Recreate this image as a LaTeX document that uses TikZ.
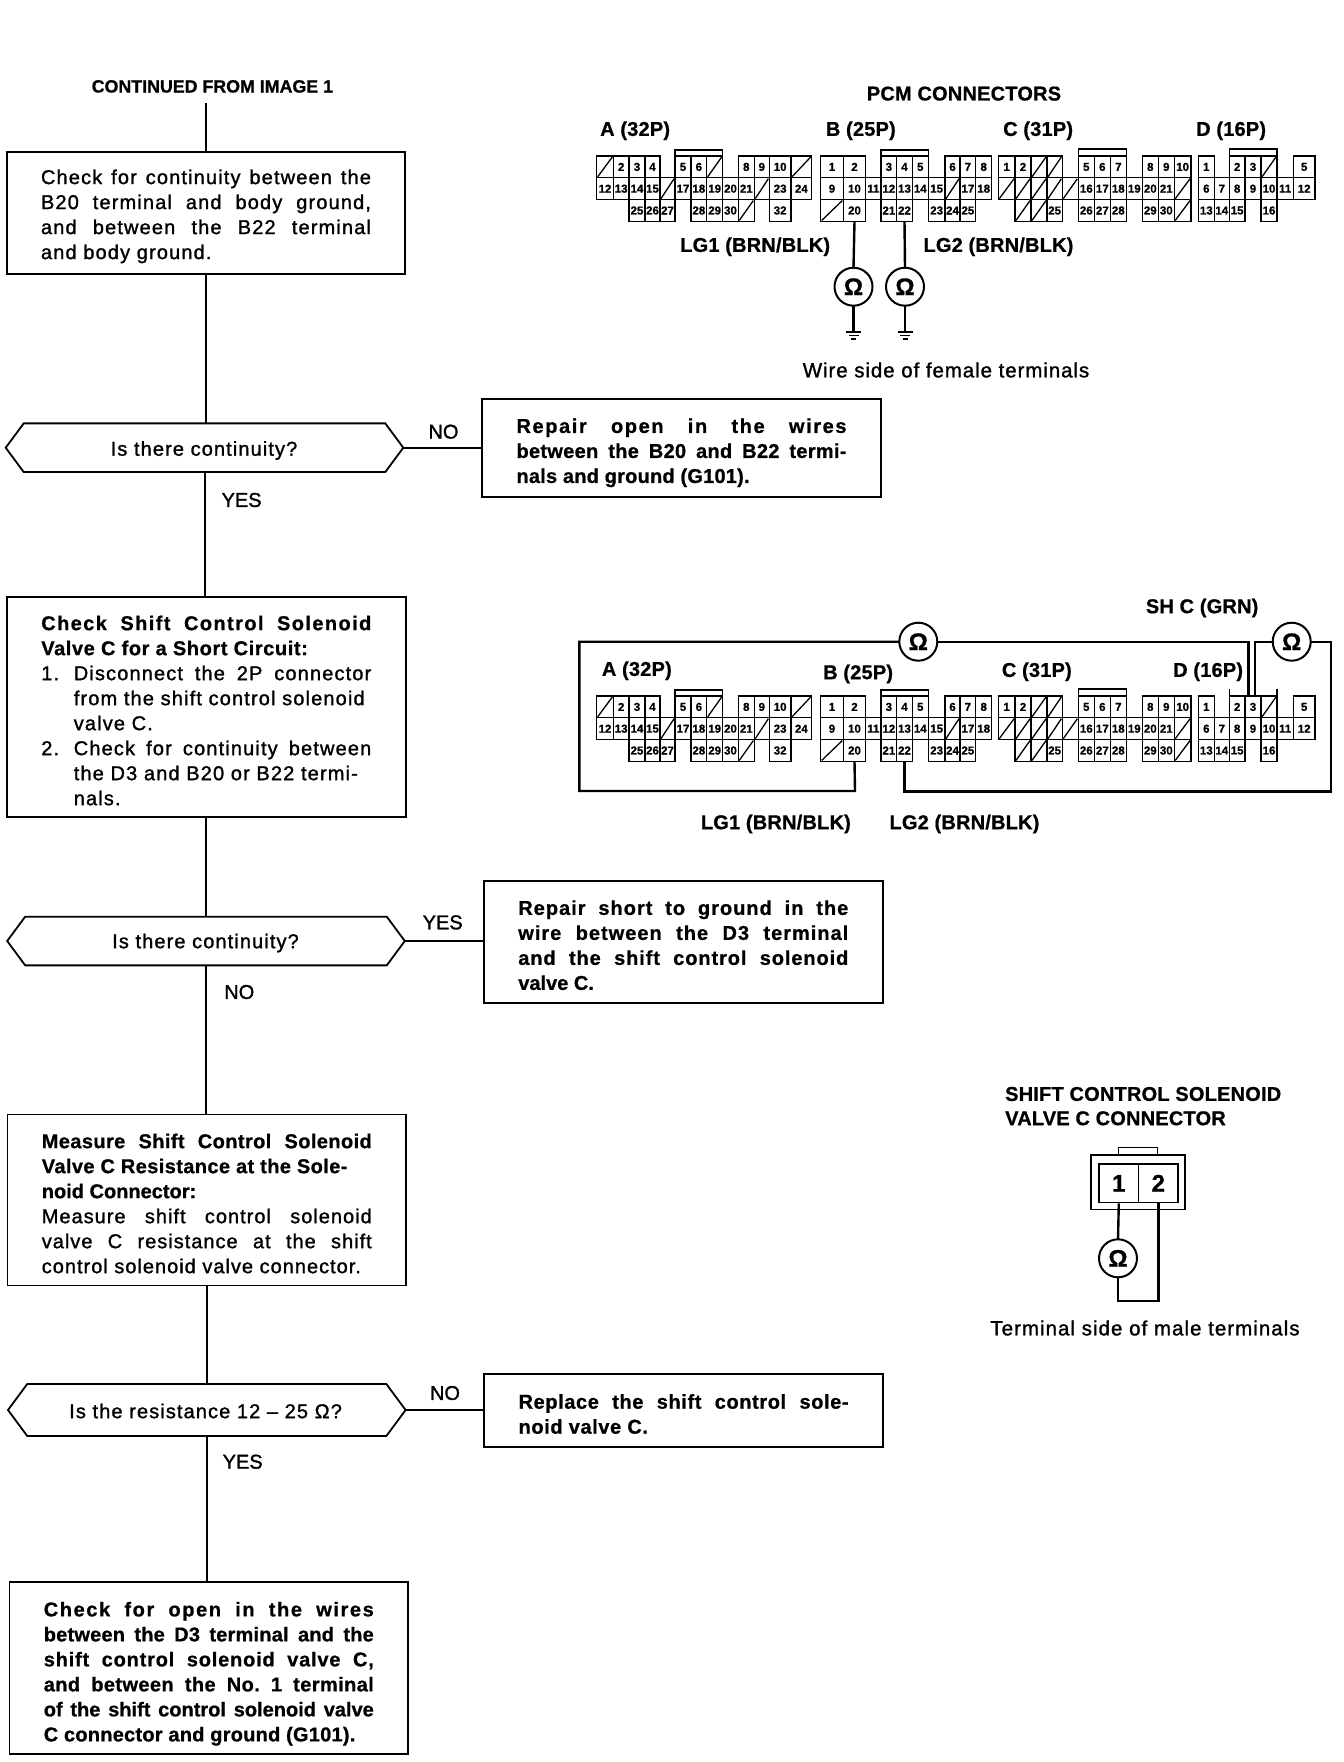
\documentclass[tikz,border=0pt]{standalone}
\usepackage{fontspec}
\setmainfont[BoldFeatures={FakeBold=0.8}]{Liberation Sans}
\newfontfamily\medfont[FakeBold=1.3]{Liberation Sans}
\usetikzlibrary{shapes.symbols}

\newcommand{\ls}[2]{{\addfontfeature{LetterSpace=#1}#2}}

\tikzset{
	stepbox/.style={draw, line width=1.8pt, align=justify, inner xsep=34.3pt, inner ysep=0pt, outer sep=0pt, text width=330pt, font=\fontsize{20}{25}\selectfont, execute at begin node={\rule{0pt}{21.5pt}}},
	boldbox/.style={stepbox, font=\fontsize{20}{25}\selectfont\bfseries},
	decision/.style={draw, line width=1.8pt, signal, signal to=west and east, signal pointer angle=107, minimum width=397.6pt, minimum height=48.7pt, inner sep=0pt, outer sep=0pt},
	hextext/.style={inner sep=0pt, font=\fontsize{20}{24}\medfont\addfontfeature{LetterSpace=5.5}},
	tag/.style={inner sep=0pt, font=\fontsize{20}{24}\medfont},
	head/.style={inner sep=0pt, anchor=west, font=\fontsize{20}{24}\selectfont\bfseries\addfontfeature{LetterSpace=1}},
	pin/.style={draw, line width=1.3pt, inner sep=0pt, outer sep=0pt, minimum height=21.8pt, anchor=north west, font=\fontsize{11.5}{12}\selectfont\bfseries},
	ohm/.style={draw, circle, line width=2pt, minimum size=38pt, inner sep=0pt, outer sep=0pt, font=\fontsize{24}{24}\selectfont\bfseries},
	wire/.style={line width=2.4pt},
	flow/.style={line width=2pt},
}

\newcommand{\pinrow}[3]{
	\foreach \x/\w/\lab in {#3}{
		\node[pin, minimum width=\w pt] (#1\lab) at (\x,#2) {\lab};
	}
}
\newcommand{\slashrow}[2]{
	\foreach \x/\w in {#2}{
		\draw[line width=1.3pt] (\x,#1) rectangle (\x+\w,#1+21.8);
		\draw[line width=1.3pt] (\x+1,#1+20.8) -- (\x+\w-1,#1+1);
	}
}
\newcommand{\pcmgrid}[2]{
	% A (32P)
	\slashrow{#2+156}{596.7/16.6, 706.7/16, 791/20.7}
	\pinrow{#1A}{#2+156}{613.3/15.7/2, 629/16/3, 645/15/4, 675/16/5, 691/15.7/6, 738.3/16/8, 754.3/15/9, 769.3/21.7/10}
	\slashrow{#2+177.8}{660/15, 754.3/15}
	\pinrow{#1A}{#2+177.8}{596.7/16.6/12, 613.3/15.7/13, 629/16/14, 645/15/15, 675/16/17, 691/15.7/18, 706.7/16/19, 722.7/15.6/20, 738.3/16/21, 769.3/21.7/23, 791/20.7/24}
	\slashrow{#2+199.6}{738.3/16}
	\pinrow{#1A}{#2+199.6}{629/16/25, 645/15/26, 660/15/27, 691/15.7/28, 706.7/16/29, 722.7/15.6/30, 769.3/21.7/32}
	\draw[line width=1.3pt] (675,#2+156) -- (675,#2+150) -- (722.7,#2+150) -- (722.7,#2+156);
	% B (25P)
	\pinrow{#1B}{#2+156}{820.7/22.6/1, 843.3/22.4/2, 881/15.7/3, 896.7/15.6/4, 912.3/16/5, 945/15/6, 960/15.7/7, 975.7/16/8}
	\slashrow{#2+177.8}{945/15}
	\pinrow{#1B}{#2+177.8}{820.7/22.6/9, 843.3/22.4/10, 865.7/15.3/11, 881/15.7/12, 896.7/15.6/13, 912.3/16/14, 928.3/16.7/15, 960/15.7/17, 975.7/16/18}
	\slashrow{#2+199.6}{820.7/22.6}
	\pinrow{#1B}{#2+199.6}{843.3/22.4/20, 881/15.7/21, 896.7/15.6/22, 928.3/16.7/23, 945/15/24, 960/15.7/25}
	\draw[line width=1.3pt] (881,#2+156) -- (881,#2+150) -- (928.3,#2+150) -- (928.3,#2+156);
	% C (31P)
	\pinrow{#1C}{#2+156}{998.3/16.7/1, 1015/16/2, 1078.3/16/5, 1094.3/16/6, 1110.3/16/7, 1142.3/16/8, 1158.3/16/9, 1174.3/16.7/10}
	\slashrow{#2+156}{1031/16, 1047/15.3}
	\slashrow{#2+177.8}{998.3/16.7, 1015/16, 1031/16, 1047/15.3, 1062.3/16, 1174.3/16.7}
	\pinrow{#1C}{#2+177.8}{1078.3/16/16, 1094.3/16/17, 1110.3/16/18, 1126.3/16/19, 1142.3/16/20, 1158.3/16/21}
	\slashrow{#2+199.6}{1015/16, 1031/16, 1174.3/16.7}
	\pinrow{#1C}{#2+199.6}{1047/15.3/25, 1078.3/16/26, 1094.3/16/27, 1110.3/16/28, 1142.3/16/29, 1158.3/16/30}
	\draw[line width=1.3pt] (1078.3,#2+156) -- (1078.3,#2+149) -- (1126.3,#2+149) -- (1126.3,#2+156);
	% D (16P)
	\pinrow{#1D}{#2+156}{1198.3/16/1, 1229.3/15.7/2, 1245/16/3, 1293.3/21.7/5}
	\slashrow{#2+156}{1261/16}
	\pinrow{#1D}{#2+177.8}{1198.3/16/6, 1214.3/15/7, 1229.3/15.7/8, 1245/16/9, 1261/16/10, 1277/16.3/11, 1293.3/21.7/12}
	\pinrow{#1D}{#2+199.6}{1198.3/16/13, 1214.3/15/14, 1229.3/15.7/15, 1261/16/16}
}
\newcommand{\gnd}[1]{
	\draw[line width=2pt] (#1) ++(-7.5,0) -- ++(15,0);
	\draw[line width=1.5pt] (#1) ++(-5,3.5) -- ++(10,0);
	\draw[line width=1.5pt] (#1) ++(-2.5,7) -- ++(5,0);
}

\begin{document}
\begin{tikzpicture}[x=1pt, y=-1pt]
	\useasboundingbox (0,0) rectangle (1344,1762);

	% flow chart, left column
	\node[inner sep=0pt, font=\fontsize{17.8}{20}\selectfont\bfseries] (cont) at (212.4,86.4) {CONTINUED FROM IMAGE 1};
	\coordinate (conttop) at (205.8,103);

	\node[stepbox, minimum height=122.3pt] (boxa) at (206,212.9) {\medfont\addfontfeature{LetterSpace=5.7}Check for continuity between the\linebreak B20 terminal and body ground,\linebreak and between the B22 terminal\linebreak and body ground.};
	\node[decision] (hexa) at (204.5,447.7) {};
	\node[hextext] (hexatext) at (204,450.5) {Is there continuity?};
	\node[boldbox, minimum height=98pt] (boxb) at (681.5,448.3) {\rule{0pt}{23.5pt}\ls{8}{Repair open in the wires}\linebreak \ls{1.5}{between the B20 and B22 termi-}\linebreak \ls{1.1}{nals and ground (G101).}};
	\node[tag] (noa) at (443.5,431.7) {NO};
	\node[tag] (yesa) at (241.6,500) {YES};

	\node[stepbox, minimum height=220.6pt] (boxc) at (206.3,707) {\textbf{\ls{7}{Check Shift Control Solenoid}\linebreak \ls{3}{Valve C for a Short Circuit:}}\par
		\medfont\addfontfeature{LetterSpace=5.7}\hangindent=32.5pt\hangafter=1\leavevmode\hbox to 32.5pt{1.\hfil}Disconnect the 2P connector\linebreak from the shift control solenoid\\ valve C.\par
		\hangindent=32.5pt\hangafter=1\leavevmode\hbox to 32.5pt{2.\hfil}Check for continuity between\linebreak the D3 and B20 or B22 termi-\\ nals.\par};
	\node[decision] (hexb) at (206,941) {};
	\node[hextext] (hexbtext) at (205.5,943) {Is there continuity?};
	\node[boldbox, minimum height=122pt] (boxd) at (683.3,941.7) {\ls{5}{Repair short to ground in the}\linebreak \ls{5}{wire between the D3 terminal}\linebreak \ls{4.5}{and the shift control solenoid}\linebreak valve C.};
	\node[tag] (yesb) at (442.7,922.4) {YES};
	\node[tag] (nob) at (239.3,992) {NO};

	\node[stepbox, minimum height=171pt] (boxe) at (206.8,1200) {\textbf{\ls{2}{Measure Shift Control Solenoid}\linebreak \ls{2}{Valve C Resistance at the Sole-}\\ noid Connector:}\par
		\medfont\addfontfeature{LetterSpace=5}Measure shift control solenoid\linebreak valve C resistance at the shift\linebreak control solenoid valve connector.};
	\node[decision, minimum height=52pt] (hexc) at (206.8,1410) {};
	\node[hextext] (hexctext) at (205.6,1411) {Is the resistance 12 – 25 Ω?};
	\node[boldbox, minimum height=73pt] (boxf) at (683.6,1410.5) {\ls{3}{Replace the shift control sole-}\linebreak \ls{3}{noid valve C.}};
	\node[tag] (noc) at (445,1393) {NO};
	\node[tag] (yesc) at (242.7,1461.7) {YES};

	\node[boldbox, minimum height=171.7pt] (boxg) at (208.8,1668.2) {\rule{0pt}{25.5pt}\ls{8}{Check for open in the wires}\linebreak \ls{1}{between the D3 terminal and the}\linebreak \ls{4}{shift control solenoid valve C,}\linebreak \ls{2}{and between the No.~1 terminal}\linebreak of the shift control solenoid valve\linebreak \ls{1.2}{C connector and ground (G101).}};

	\draw[flow] (conttop) -- (conttop |- boxa.north);
	\draw[flow] (boxa.south) -- (boxa.south |- hexa.north);
	\draw[flow] (hexa.south) -- (hexa.south |- boxc.north);
	\draw[flow] (boxc.south) -- (boxc.south |- hexb.north);
	\draw[flow] (hexb.south) -- (hexb.south |- boxe.north);
	\draw[flow] (boxe.south) -- (boxe.south |- hexc.north);
	\draw[flow] (hexc.south) -- (hexc.south |- boxg.north);
	\draw[flow] (hexa.east) -- (hexa.east -| boxb.west);
	\draw[flow] (hexb.east) -- (hexb.east -| boxd.west);
	\draw[flow] (hexc.east) -- (hexc.east -| boxf.west);

	% PCM connectors, top
	\node[head, anchor=center] (pcmtitle) at (964,93.6) {PCM CONNECTORS};
	\node[head] (oneAhead) at (600,130.7) {A (32P)};
	\node[head] (oneBhead) at (825.7,130.7) {B (25P)};
	\node[head] (oneChead) at (1003,130.7) {C (31P)};
	\node[head] (oneDhead) at (1196,130.7) {D (16P)};
	\pcmgrid{one}{0}
	\draw[line width=1.3pt] (1229.3,156) -- (1229.3,149) -- (1277,149) -- (1277,156);
	\node[head] (lgonea) at (680,246.7) {LG1 (BRN/BLK)};
	\node[head] (lgtwoa) at (923.3,246.7) {LG2 (BRN/BLK)};
	\node[ohm] (ohma) at (853.5,286.7) {Ω};
	\node[ohm] (ohmb) at (905,286.7) {Ω};
	\coordinate (gnda) at (853.5,332);
	\coordinate (gndb) at (905,332);
	\draw[wire] (oneB20.south) -- (ohma.north);
	\draw[wire] (oneB22.south) -- (ohmb.north);
	\draw[wire] (ohma.south) -- (gnda);
	\draw[wire] (ohmb.south) -- (gndb);
	\gnd{gnda}
	\gnd{gndb}
	\node[tag, font=\fontsize{20.5}{24}\medfont\addfontfeature{LetterSpace=4.5}] (wireside) at (946,370) {Wire side of female terminals};

	% PCM connectors, meter hookup
	\node[head] (twoAhead) at (601.7,670.7) {A (32P)};
	\node[head] (twoBhead) at (823,674) {B (25P)};
	\node[head] (twoChead) at (1001.7,671.7) {C (31P)};
	\node[head] (twoDhead) at (1173,671.7) {D (16P)};
	\node[head] (shc) at (1145.7,608) {SH C (GRN)};
	\pcmgrid{two}{540}
	\draw[line width=1.3pt] (1229.3,689) -- (1229.3,696);
	\draw[line width=1.3pt] (1277,689) -- (1277,696);
	\node[head] (lgoneb) at (700.7,824) {LG1 (BRN/BLK)};
	\node[head] (lgtwob) at (889.3,824) {LG2 (BRN/BLK)};
	\node[ohm] (ohmc) at (918.3,641.7) {Ω};
	\node[ohm] (ohmd) at (1291.7,641.7) {Ω};
	\draw[wire] (ohmc.west) -- (579.3,641.7) -- (579.3,791) -- (855,791) -- (twoB20.south);
	\draw[wire] (ohmc.east) -- (1248.3,641.7) -- ([xshift=-4.7pt]twoD3.north);
	\draw[wire] (ohmd.west) -- (1255,641.7) -- ([xshift=2pt]twoD3.north);
	\draw[wire] (ohmd.east) -- (1330.7,641.7) -- (1330.7,791.5) -- (904.5,791.5) -- (twoB22.south);

	% solenoid connector
	\node[head] (solenoida) at (1005,1094) {SHIFT CONTROL SOLENOID};
	\node[head] (solenoidb) at (1005,1118.3) {VALVE C CONNECTOR};
	\draw[line width=1.6pt] (1118.3,1155) -- (1118.3,1147.3) -- (1157.3,1147.3) -- (1157.3,1155);
	\draw[line width=1.6pt] (1090.7,1155) rectangle (1185,1209.3);
	\node[draw, line width=1.6pt, inner sep=0pt, minimum width=39.4pt, minimum height=38.4pt, anchor=north west, font=\fontsize{24}{24}\selectfont\bfseries] (solone) at (1098.3,1163.3) {1};
	\node[draw, line width=1.6pt, inner sep=0pt, minimum width=39.6pt, minimum height=38.4pt, anchor=north west, font=\fontsize{24}{24}\selectfont\bfseries] (soltwo) at (1137.7,1163.3) {2};
	\node[ohm] (ohme) at (1118,1258.3) {Ω};
	\draw[wire] (solone.south) -- (ohme.north);
	\draw[wire] (ohme.south) -- (1118,1301) -| (soltwo.south);
	\node[tag, font=\fontsize{20.5}{24}\medfont\addfontfeature{LetterSpace=5}] (termside) at (1145,1328) {Terminal side of male terminals};
\end{tikzpicture}
\end{document}
